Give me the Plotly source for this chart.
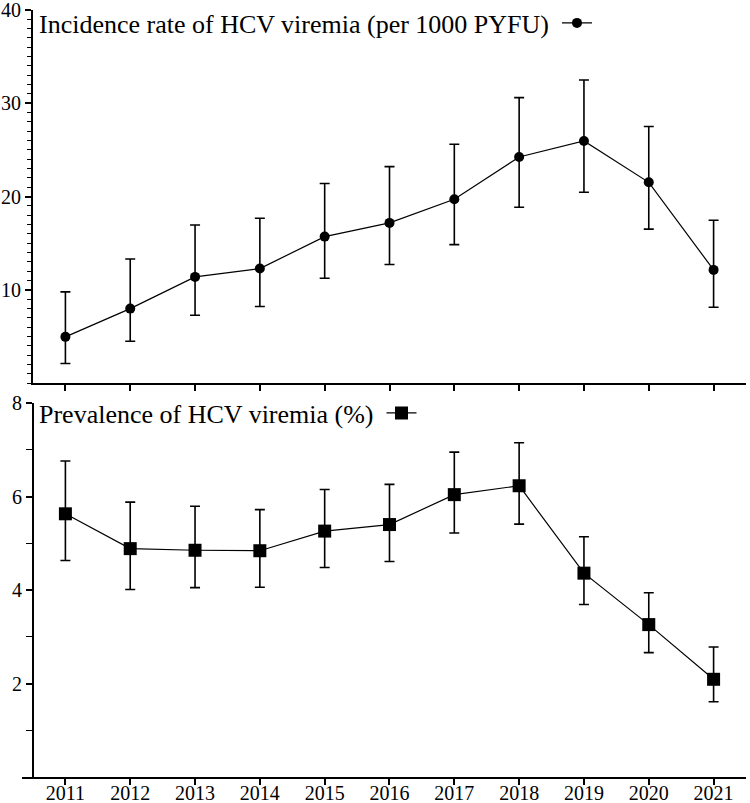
import plotly.graph_objects as go

YEARS = [2011, 2012, 2013, 2014, 2015, 2016, 2017, 2018, 2019, 2020, 2021]

# incidence rate per 1000 PYFU with 95% CI
INC_RATE = [4.95, 7.98, 11.38, 12.27, 15.7, 17.17, 19.7, 24.24, 25.96, 21.52, 12.13]
INC_LOW = [2.09, 4.48, 7.27, 8.2, 11.23, 12.7, 14.84, 18.84, 20.45, 16.5, 8.12]
INC_HIGH = [9.77, 13.3, 16.95, 17.66, 21.4, 23.2, 25.6, 30.6, 32.5, 27.5, 17.45]

# prevalence (%) with 95% CI
PREV = [5.63, 4.885, 4.85, 4.84, 5.26, 5.4, 6.04, 6.23, 4.36, 3.26, 2.09]
PREV_LOW = [4.63, 4.01, 4.05, 4.06, 4.48, 4.61, 5.22, 5.41, 3.69, 2.66, 1.61]
PREV_HIGH = [6.76, 5.88, 5.79, 5.72, 6.15, 6.26, 6.95, 7.15, 5.14, 3.94, 2.78]

TITLE_TOP = "Incidence rate of HCV viremia (per 1000 PYFU)"
TITLE_BOTTOM = "Prevalence of HCV viremia (%)"

W, H = 750, 803
ML, MR, MT, MB = 22, 4, 10, 26
FONT = "Liberation Serif, Times New Roman, Times, serif"


def px_x(p):
    return (p - ML) / (W - ML - MR)


def px_y(p):
    return (H - MB - p) / (H - MT - MB)


def errbars(vals, low, high):
    return dict(
        type="data",
        symmetric=False,
        array=[h - v for v, h in zip(vals, high)],
        arrayminus=[v - l for v, l in zip(vals, low)],
        color="black",
        thickness=1.6,
        width=5,
    )


fig = go.Figure()

fig.add_trace(
    go.Scatter(
        x=YEARS,
        y=INC_RATE,
        name="",
        mode="lines+markers",
        line=dict(color="black", width=1.2),
        marker=dict(symbol="circle", size=10, color="black"),
        error_y=errbars(INC_RATE, INC_LOW, INC_HIGH),
        xaxis="x",
        yaxis="y",
        legend="legend",
    )
)
fig.add_trace(
    go.Scatter(
        x=YEARS,
        y=PREV,
        name="",
        mode="lines+markers",
        line=dict(color="black", width=1.2),
        marker=dict(symbol="square", size=13, color="black"),
        error_y=errbars(PREV, PREV_LOW, PREV_HIGH),
        xaxis="x2",
        yaxis="y2",
        legend="legend2",
    )
)

axis_common = dict(
    showgrid=False,
    zeroline=False,
    showline=True,
    linecolor="black",
    linewidth=2,
    ticks="outside",
    tickcolor="black",
    tickwidth=1.6,
    automargin=False,
    ticklabeloverflow="allow",
    tickfont=dict(family=FONT, size=20, color="black"),
)

legend_common = dict(
    orientation="h",
    xanchor="left",
    yanchor="middle",
    bgcolor="rgba(0,0,0,0)",
    font=dict(family=FONT, size=26, color="black"),
    itemwidth=30,
    tracegroupgap=0,
)

fig.update_layout(
    width=W,
    height=H,
    margin=dict(l=ML, r=MR, t=MT, b=MB, autoexpand=False),
    paper_bgcolor="white",
    plot_bgcolor="white",
    showlegend=True,
    xaxis=dict(
        **axis_common,
        domain=[px_x(33), px_x(746)],
        range=[2010.5, 2021.5],
        tickvals=YEARS,
        showticklabels=False,
        ticklen=6,
        anchor="y",
    ),
    yaxis=dict(
        **axis_common,
        domain=[px_y(383), px_y(10)],
        range=[0, 40],
        tickvals=[10, 20, 30, 40],
        ticklen=6,
        minor=dict(dtick=1, ticks="outside", ticklen=4, tickcolor="black", tickwidth=1.3),
        anchor="x",
    ),
    xaxis2=dict(
        **axis_common,
        domain=[px_x(22), px_x(746)],
        range=[2010.5 - 11 / 64.9, 2021.5],
        tickvals=YEARS,
        ticktext=[str(y) for y in YEARS],
        ticklen=6,
        ticklabelstandoff=-9,
        anchor="y2",
    ),
    yaxis2=dict(
        **axis_common,
        domain=[px_y(777), px_y(403)],
        range=[0, 8],
        tickvals=[2, 4, 6, 8],
        ticklen=6,
        minor=dict(dtick=1, ticks="outside", ticklen=6, tickcolor="black", tickwidth=1.3),
        anchor="free",
        position=px_x(33),
    ),
    legend=dict(
        **legend_common,
        x=px_x(37),
        y=px_y(23),
        title=dict(text=TITLE_TOP, side="left", font=dict(family=FONT, size=26, color="black")),
    ),
    legend2=dict(
        **legend_common,
        x=px_x(37),
        y=px_y(413),
        title=dict(text=TITLE_BOTTOM, side="left", font=dict(family=FONT, size=26, color="black")),
    ),
)

# the page body has a default 8px margin; drop it so the figure fills the window
fig.write_html(
    "out.html",
    config={"displayModeBar": False},
    post_script="document.body.style.margin='0';",
)
